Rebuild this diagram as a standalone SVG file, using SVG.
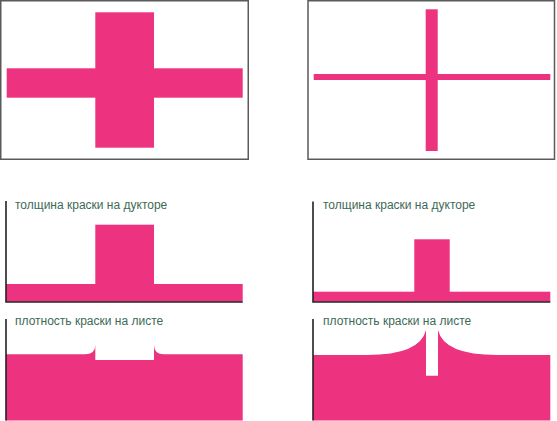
<svg xmlns="http://www.w3.org/2000/svg" width="557" height="421" viewBox="0 0 557 421">
<style>
.ink{fill:#ED327F}
.frame{fill:#fff;stroke:#5a5a5a;stroke-width:1.5}
.axis{stroke:#222;stroke-width:1.6;fill:none}
.lbl{font-family:"Liberation Sans",Arial,sans-serif;font-size:12px;fill:#3d6a55}
</style>
<rect width="557" height="421" fill="#fff"/>
<g id="plate-thick">
<rect class="frame" x="0.75" y="0.75" width="247.5" height="158.5"/>
<rect class="ink" x="95.3" y="12.3" width="58.7" height="135.4"/>
<rect class="ink" x="6.7" y="68.3" width="236" height="29.4"/>
</g>
<g id="plate-thin">
<rect class="frame" x="308" y="0.75" width="246.5" height="158.5"/>
<rect class="ink" x="425.7" y="9.3" width="12" height="141.7"/>
<rect class="ink" x="313.7" y="74" width="236.6" height="6"/>
</g>
<g id="ductor-thick">
<rect class="ink" x="6" y="284" width="236.7" height="17.7"/>
<rect class="ink" x="95.3" y="224.7" width="58.7" height="60"/>
<path class="axis" d="M6 201V302H242.7"/>
<text class="lbl" x="15" y="208.5">толщина краски на дукторе</text>
</g>
<g id="ductor-thin">
<rect class="ink" x="313" y="291.7" width="237.3" height="10"/>
<rect class="ink" x="414.3" y="239.3" width="35.4" height="53"/>
<path class="axis" d="M313 201.5V302H550.3"/>
<text class="lbl" x="323" y="208.5">толщина краски на дукторе</text>
</g>
<g id="sheet-thick">
<path class="ink" d="M6 354.3H85Q95.3 354.3 95.3 345V360H154V345Q154 354.3 164 354.3H242.7V420.5H6Z"/>
<path class="axis" d="M6 319V420.5"/>
<text class="lbl" x="15" y="325">плотность краски на листе</text>
</g>
<g id="sheet-thin">
<path class="ink" d="M313 355H367Q420 355 426 330V375.7H438V330Q444 355 497 355H550.3V420.5H313Z"/>
<path class="axis" d="M313 319V420.5"/>
<text class="lbl" x="323" y="325">плотность краски на листе</text>
</g>
</svg>
